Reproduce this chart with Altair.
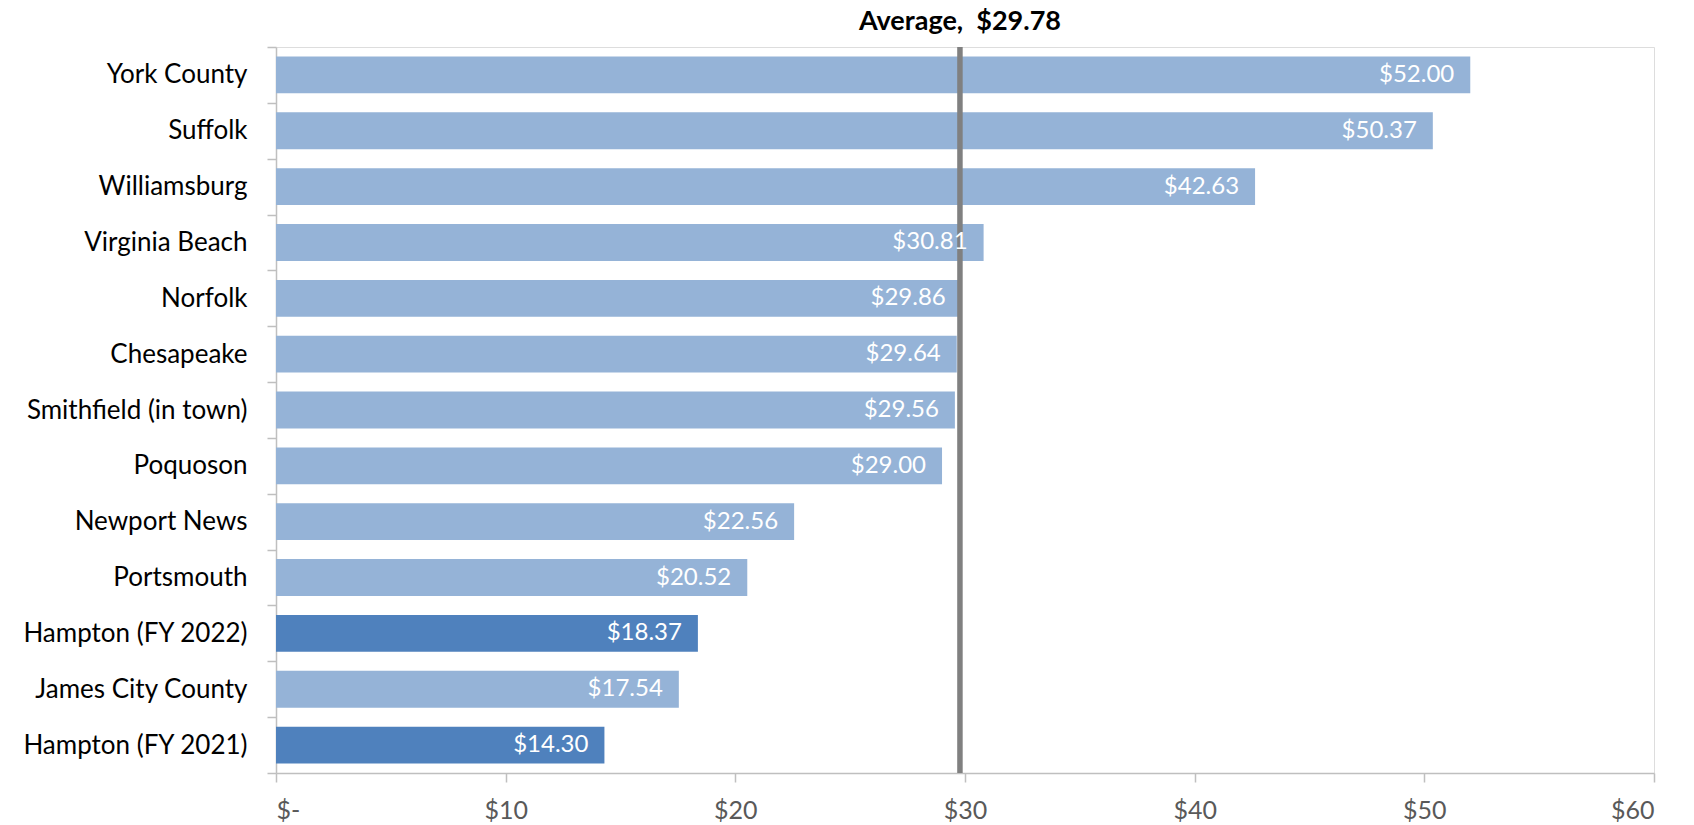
import altair as alt
import pandas as pd

categories = ["York County", "Suffolk", "Williamsburg", "Virginia Beach", "Norfolk",
              "Chesapeake", "Smithfield (in town)", "Poquoson", "Newport News",
              "Portsmouth", "Hampton (FY 2022)", "James City County", "Hampton (FY 2021)"]
values = [52.00, 50.37, 42.63, 30.81, 29.86, 29.64, 29.56, 29.00, 22.56, 20.52, 18.37, 17.54, 14.30]
highlight = ["no", "no", "no", "no", "no", "no", "no", "no", "no", "no", "yes", "no", "yes"]
average = 29.78
x_ticks = [0, 10, 20, 30, 40, 50, 60]

FONT = "Lato"
df = pd.DataFrame({"name": categories, "value": values, "hl": highlight})
avg_df = pd.DataFrame({"avg": [average], "label": [f"Average,\u00a0 ${average:.2f}"]})

y_enc = alt.Y("name:N", sort=None,
              scale=alt.Scale(domain=categories, paddingInner=0, paddingOuter=0),
              axis=alt.Axis(title=None, tickBand="extent", ticks=True, tickSize=9,
                            tickColor="#BFBFBF", tickWidth=1.5, domainColor="#BFBFBF",
                            domainWidth=1.5, labelFont=FONT, labelFontSize=26,
                            labelColor="#000000", labelPadding=20, grid=False,
                            labelLimit=0))
x_scale = alt.Scale(domain=[0, 60], nice=False, zero=True)
x_enc = alt.X("value:Q", scale=x_scale,
              axis=alt.Axis(title=None, values=x_ticks, tickSize=9, tickColor="#BFBFBF",
                            tickWidth=1.5, domainColor="#BFBFBF", domainWidth=1.5,
                            labelFont=FONT, labelFontSize=25, labelColor="#595959",
                            labelPadding=16, grid=False,
                            labelExpr="datum.value == 0 ? '$-' : '$' + datum.value"))

bars = alt.Chart(df).mark_bar(height=alt.RelativeBandSize(band=0.66)).encode(
    x=x_enc, y=y_enc,
    color=alt.Color("hl:N", scale=alt.Scale(domain=["no", "yes"], range=["#95B3D7", "#4F81BD"]),
                    legend=None))

rule = alt.Chart(avg_df).mark_rule(color="#808080", strokeWidth=5.5).encode(
    x=alt.X("avg:Q", scale=x_scale))

labels = alt.Chart(df).mark_text(align="right", baseline="middle", dx=-16, color="white",
                                 font=FONT, fontSize=24).encode(
    x=alt.X("value:Q", scale=x_scale), y=alt.Y("name:N", sort=None),
    text=alt.Text("value:Q", format="$.2f"))

avg_label = alt.Chart(avg_df).mark_text(align="center", baseline="alphabetic", font=FONT,
                                        fontSize=27, fontWeight="bold", color="#000000").encode(
    x=alt.X("avg:Q", scale=x_scale), y=alt.value(-17), text="label:N")

chart = alt.layer(bars, rule, labels, avg_label).properties(
    width=1378, height=726,
    padding={"left": 268, "top": 39, "right": 16, "bottom": 50},
    autosize="none",
).configure_view(stroke=None).configure(background="white")

chart.save("out.html", embed_options={"renderer": "svg", "actions": False})
